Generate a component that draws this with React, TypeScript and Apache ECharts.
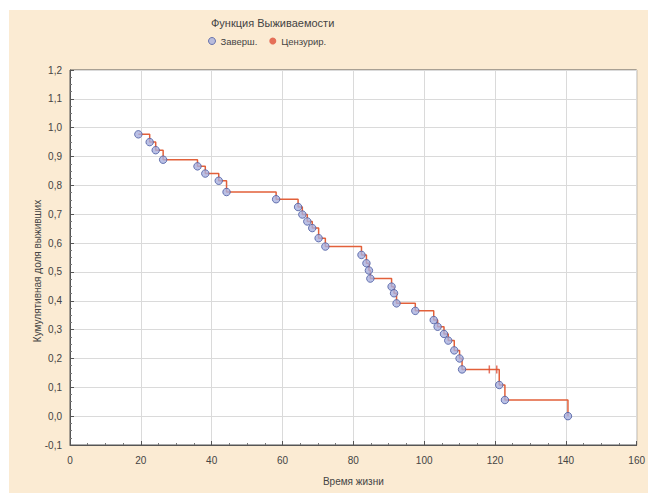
import React, { useEffect, useRef } from "react";
import * as echarts from "echarts";

const eventTimes = [19.3, 22.5, 24.2, 26.3, 36.0, 38.2, 42.0, 44.2, 58.2, 64.4, 65.6, 67.0, 68.4, 70.2, 72.1, 82.3, 83.7, 84.4, 84.8, 90.8, 91.5, 92.2, 97.5, 102.7, 103.8, 105.6, 106.8, 108.5, 110.0, 110.7, 121.2, 122.8, 140.6];
const eventSurv = [0.977, 0.950, 0.922, 0.889, 0.866, 0.841, 0.816, 0.777, 0.752, 0.725, 0.699, 0.675, 0.652, 0.617, 0.588, 0.559, 0.530, 0.505, 0.477, 0.449, 0.426, 0.391, 0.365, 0.333, 0.310, 0.285, 0.262, 0.228, 0.200, 0.162, 0.108, 0.056, 0.0];
const censTimes = [118.4, 120.5];
const censSurv = [0.162, 0.162];

const xTicks = [0, 20, 40, 60, 80, 100, 120, 140, 160];
const yTicks = [-0.1, 0, 0.1, 0.2, 0.3, 0.4, 0.5, 0.6, 0.7, 0.8, 0.9, 1.0, 1.1, 1.2];

const titleText = "Функция Выживаемости";
const xName = "Время жизни";
const yName = "Кумулятивная доля выживших";
const evName = "Заверш.";
const cenName = "Цензурир.";

export default function App() {
  const ref = useRef<HTMLDivElement>(null);
  useEffect(() => {
    if (!ref.current) return;
    const chart = echarts.init(ref.current, null, { renderer: "svg" });
    const events = eventTimes.map((t, i) => [t, eventSurv[i]]);
    const cens = censTimes.map((t, i) => [t, censSurv[i]]);
    const all = [...events, ...cens].sort((a, b) => a[0] - b[0]);
    const font = "Liberation Sans, Arial, sans-serif";
    chart.setOption({
      animation: false,
      backgroundColor: "#ffffff",
      textStyle: { fontFamily: font },
      graphic: [
        { type: "rect", z: -10, silent: true, shape: { x: 9, y: 10, width: 639, height: 483 }, style: { fill: "#FBEBD3" } },
        { type: "text", x: 37, y: 271, rotation: Math.PI / 2, style: { text: yName, align: "center", verticalAlign: "middle", fontSize: 10, fill: "#444", fontFamily: font } },
      ],
      title: {
        text: titleText,
        left: 206,
        top: 12,
        textStyle: { fontSize: 11, fontWeight: "normal", color: "#444", fontFamily: font },
      },
      legend: {
        left: 203,
        top: 31,
        itemWidth: 7,
        itemHeight: 7,
        itemGap: 12,
        textStyle: { fontSize: 9.5, color: "#444", fontFamily: font },
        data: [
          { name: evName, icon: "circle", itemStyle: { color: "#A9B0DE", borderColor: "#4A5AA0", borderWidth: 1 } },
          { name: cenName, icon: "circle", itemStyle: { color: "#E0503A", borderWidth: 0 } },
        ],
      },
      grid: { left: 70, right: 8, top: 70, bottom: 48, show: true, backgroundColor: "#ffffff", borderColor: "#555", borderWidth: 1 },
      xAxis: {
        type: "value",
        min: xTicks[0],
        max: xTicks[xTicks.length - 1],
        interval: 20,
        name: xName,
        nameLocation: "middle",
        nameGap: 31,
        nameTextStyle: { fontSize: 10, color: "#444" },
        axisLine: { onZero: false, lineStyle: { color: "#555" } },
        axisTick: { inside: true, length: 4, lineStyle: { color: "#555" } },
        minorTick: { show: true, splitNumber: 4, length: 2, lineStyle: { color: "#777" } },
        axisLabel: { fontSize: 10, color: "#444", margin: 10 },
        splitLine: { show: true, lineStyle: { color: "#DADADA" } },
      },
      yAxis: {
        type: "value",
        min: yTicks[0],
        max: yTicks[yTicks.length - 1],
        interval: 0.1,
        axisLine: { show: true, onZero: false, lineStyle: { color: "#555" } },
        axisTick: { show: true, inside: true, length: 4, lineStyle: { color: "#555" } },
        minorTick: { show: true, splitNumber: 4, length: 2, lineStyle: { color: "#777" } },
        axisLabel: { fontSize: 10, color: "#444", margin: 8, formatter: (v: number) => (Math.round(v * 10) / 10).toFixed(1).replace(".", ",") },
        splitLine: { show: true, lineStyle: { color: "#DADADA" } },
      },
      series: [
        {
          name: "step",
          type: "line",
          step: "end",
          data: all,
          showSymbol: false,
          lineStyle: { color: "#E2603A", width: 1.5 },
          z: 2,
        },
        {
          name: evName,
          type: "scatter",
          data: events,
          symbol: "circle",
          symbolSize: 7.5,
          itemStyle: { color: "#A9B0DE", borderColor: "#4A5AA0", borderWidth: 1 },
          z: 3,
        },
        {
          name: cenName,
          type: "scatter",
          data: cens,
          symbol: "rect",
          symbolSize: [1.5, 8],
          itemStyle: { color: "#E0503A" },
          z: 3,
        },
      ],
    });
    return () => chart.dispose();
  }, []);
  return <div ref={ref} style={{ position: "absolute", left: 0, top: 0, width: 648, height: 493 }} />;
}
